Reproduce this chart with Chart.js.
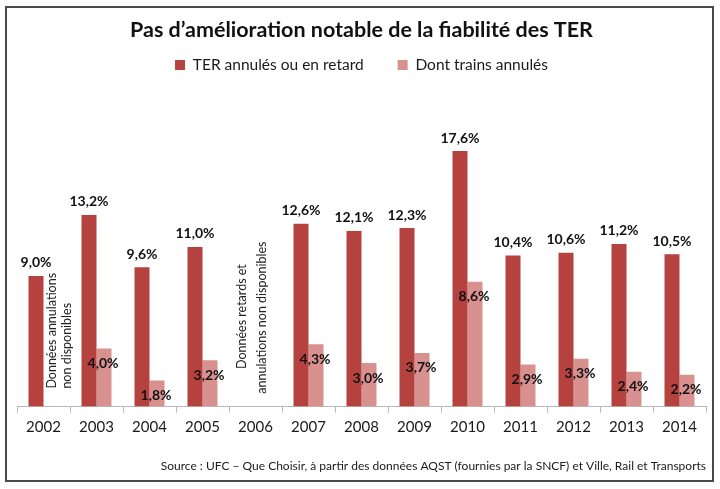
<!DOCTYPE html>
<html>
<head>
<meta charset="utf-8">
<script src="https://cdn.jsdelivr.net/npm/chart.js@4"></script>
<style>
html,body{margin:0;padding:0;background:#fff;}
#wrap{position:relative;width:720px;height:489px;}
#frame{position:absolute;left:5px;top:6px;width:705px;height:472px;border:2px solid #4a4a4a;pointer-events:none;}
canvas{display:block;}
</style>
</head>
<body>
<div id="wrap">
<canvas id="c" width="720" height="489"></canvas>
<div id="frame"></div>
</div>
<script>
const years = ['2002','2003','2004','2005','2006','2007','2008','2009','2010','2011','2012','2013','2014'];
const terAnnulesRetard = [9.0, 13.2, 9.6, 11.0, null, 12.6, 12.1, 12.3, 17.6, 10.4, 10.6, 11.2, 10.5];
const trainsAnnules = [null, 4.0, 1.8, 3.2, null, 4.3, 3.0, 3.7, 8.6, 2.9, 3.3, 2.4, 2.2];
const seriesNames = ['TER annulés ou en retard', 'Dont trains annulés'];
const titleText = 'Pas d\u2019amélioration notable de la fiabilité des TER';
const sourceText = 'Source : UFC \u2013 Que Choisir, à partir des données AQST (fournies par la SNCF) et Ville, Rail et Transports';
const noteAnnul = ['Données annulations', 'non disponibles'];
const noteAll = ['Données retards et', 'annulations non disponibles'];

const fmt = v => v.toFixed(1).replace('.', ',') + '%';

const labelPlugin = {
  id: 'labels',
  afterDatasetsDraw(chart) {
    const ctx = chart.ctx;
    ctx.save();
    ctx.font = 'bold 14px Lato';
    ctx.fillStyle = '#111';
    ctx.textAlign = 'center';
    ctx.textBaseline = 'middle';
    const m0 = chart.getDatasetMeta(0), m1 = chart.getDatasetMeta(1);
    terAnnulesRetard.forEach((v, i) => {
      if (v == null) return;
      const b = m0.data[i];
      ctx.fillText(fmt(v), b.x, b.y - 13);
    });
    trainsAnnules.forEach((v, i) => {
      if (v == null) return;
      const b = m1.data[i];
      ctx.fillText(fmt(v), b.x - 1, b.y + 15);
    });
    const xs = chart.scales.x, ys = chart.scales.y;
    const base = ys.getPixelForValue(0);
    ctx.font = '12.5px Lato';
    ctx.fillStyle = '#222';
    // 2002 note: lines start at the bottom
    {
      const cx = xs.getPixelForValue(years.indexOf('2002'));
      ctx.textAlign = 'left';
      [8, 23].forEach((off, k) => {
        ctx.save();
        ctx.translate(cx + off, base - 18);
        ctx.rotate(-Math.PI / 2);
        ctx.fillText(noteAnnul[k], 0, 0);
        ctx.restore();
      });
    }
    // 2006 note: centred lines
    {
      const cx = xs.getPixelForValue(years.indexOf('2006'));
      ctx.textAlign = 'center';
      [[-14, 90], [6, 89]].forEach((p, k) => {
        ctx.save();
        ctx.translate(cx + p[0], base - p[1]);
        ctx.rotate(-Math.PI / 2);
        ctx.fillText(noteAll[k], 0, 0);
        ctx.restore();
      });
    }
    ctx.restore();
  }
};

new Chart(document.getElementById('c'), {
  type: 'bar',
  data: {
    labels: years,
    datasets: [
      {label: seriesNames[0], data: terAnnulesRetard, backgroundColor: '#B5423F', categoryPercentage: 0.566, barPercentage: 1},
      {label: seriesNames[1], data: trainsAnnules, backgroundColor: '#D9918F', categoryPercentage: 0.566, barPercentage: 1}
    ]
  },
  options: {
    responsive: false,
    animation: false,
    layout: {padding: {left: 17, right: 14, top: 4, bottom: 3}},
    scales: {
      y: {display: false, min: 0, max: 22.3},
      x: {
        grid: {offset: true, drawOnChartArea: false, tickLength: 6, color: '#b8b8b8'},
        border: {color: '#b8b8b8'},
        ticks: {font: {family: 'Lato', size: 15}, color: '#1a1a1a', padding: 6}
      }
    },
    plugins: {
      title: {display: true, text: titleText, font: {family: 'Lato', size: 21.5, weight: 'bold'}, color: '#111', padding: {top: 13, bottom: -19.5}},
      legend: {
        labels: {font: {family: 'Lato', size: 15.5}, color: '#1a1a1a', boxWidth: 10, boxHeight: 10, padding: 34}
      },
      subtitle: {display: true, position: 'bottom', align: 'end', text: sourceText, font: {family: 'Lato', size: 12}, color: '#1a1a1a', padding: {top: 16, bottom: 13}},
      tooltip: {enabled: false}
    }
  },
  plugins: [labelPlugin]
});
</script>
</body>
</html>
